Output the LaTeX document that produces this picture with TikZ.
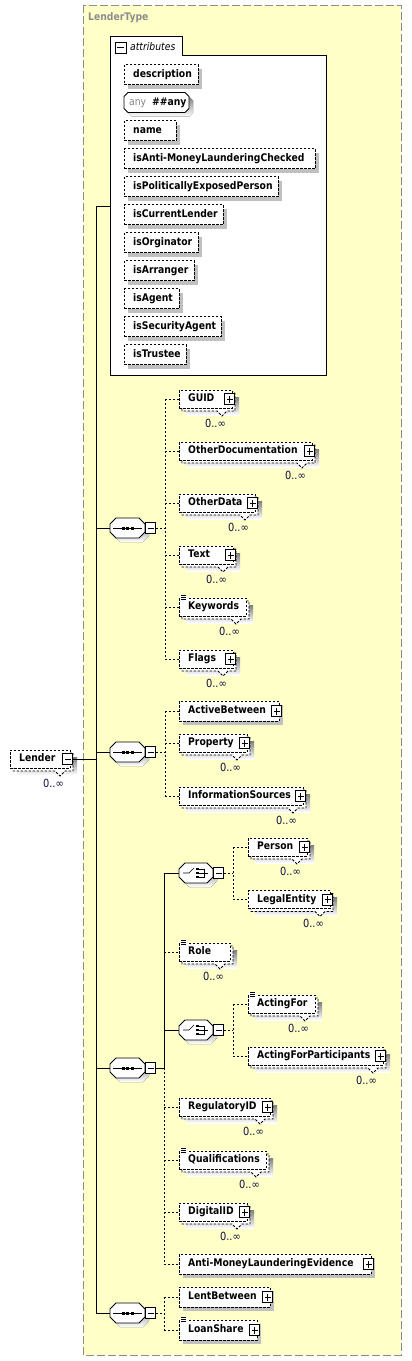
\documentclass[tikz,border=0pt]{standalone}
\usepackage{fontspec}
\setmainfont{DejaVu Sans}[FakeStretch=0.88]
\usetikzlibrary{shadows}
\definecolor{bgyellow}{HTML}{FFFFC8}
\definecolor{shade}{HTML}{C0C0C0}
\definecolor{framegray}{HTML}{8C8C8C}
\definecolor{anygray}{HTML}{808080}
\definecolor{multc}{HTML}{101040}
\tikzset{
  lw/.style={line width=0.8pt},
  dsh/.style={dash pattern=on 2.5pt off 1.5pt},
  ebox/.style={draw=black, lw, dsh, fill=white, inner sep=0pt},
  shadowed/.style={drop shadow={shadow xshift=4pt,shadow yshift=-4pt,fill=shade,opacity=1}},
  lbl/.style={font=\fontsize{10.5}{12}\selectfont\bfseries, inner sep=0pt, anchor=west, text height=7.5pt, text depth=2pt},
  mult/.style={font=\fontsize{11.2}{12}\selectfont, text=multc, inner sep=0pt, anchor=east},
  pmbox/.style={draw=black, solid, lw, fill=white, minimum width=10pt, minimum height=11pt, inner sep=0pt},
  minusbox/.style={pmbox, path picture={\draw[lw,solid] ([xshift=2pt]path picture bounding box.west) -- ([xshift=-2pt]path picture bounding box.east);}},
  plusbox/.style={pmbox, path picture={\draw[lw,solid] ([xshift=2pt]path picture bounding box.west) -- ([xshift=-2pt]path picture bounding box.east); \draw[lw,solid] ([yshift=2pt]path picture bounding box.south) -- ([yshift=-2pt]path picture bounding box.north);}},
  conn/.style={lw, black},
  opt/.style={lw, black, dash pattern=on 2pt off 2pt},
}
% single element box
\newcommand\selem[5]{%
  \node[ebox, shadowed, minimum width=#4pt, minimum height=20pt, anchor=west] (#1) at (#2,#3) {};
  \node[lbl] (#1-t) at (#2+9,#3) {#5};
}
% stacked element box (maxOccurs > 1)
\newcommand\melem[5]{%
  \fill[shade] (#2+7,#3-2) rectangle (#2+#4+7,#3+16);
  \draw[ebox] (#2+3,#3-6) -- (#2+#4+3,#3-6) -- (#2+#4+3,#3+12) -- (#2+#4-5,#3+12) -- (#2+#4-10,#3+17) -- (#2+#4-15,#3+12) -- (#2+3,#3+12) -- cycle;
  \node[ebox, minimum width=#4pt, minimum height=18pt, anchor=west] (#1) at (#2,#3) {};
  \node[lbl] (#1-t) at (#2+9,#3) {#5};
  \node[mult] (#1-n) at (#2+#4-6,#3+24) {0..∞};
}
\newcommand\plusb[1]{\node[plusbox] (#1-p) at ([xshift=-3pt]#1.east) {};}
\newcommand\docb[1]{%
  \fill[white] ([xshift=1pt,yshift=3pt]#1.north west) rectangle ++(7,6.5);
  \draw[line width=0.6pt] ([xshift=2pt,yshift=2pt]#1.north west) -- ++(5,0)
    ([xshift=2pt]#1.north west) -- ++(5,0)
    ([xshift=2pt,yshift=-2pt]#1.north west) -- ++(5,0);}
% compositor
\newcommand\compo[5]{%
  \fill[shade] (#2+10,#3-6) -- (#2+#4-2,#3-6) -- (#2+#4+4,#3) -- (#2+#4+4,#3+8) -- (#2+#4-2,#3+14) -- (#2+10,#3+14) -- (#2+4,#3+8) -- (#2+4,#3) -- cycle;
  \draw[lw, fill=white] (#2+6,#3-10) -- (#2+#4-6,#3-10) -- (#2+#4,#3-4) -- (#2+#4,#3+4) -- (#2+#4-6,#3+10) -- (#2+6,#3+10) -- (#2,#3+4) -- (#2,#3-4) -- cycle;
  \node[inner sep=0pt, minimum width=#4pt, minimum height=20pt, anchor=west] (#1) at (#2,#3) {};
  \node[minusbox, anchor=west] (#1-m) at (#1.east) {};
  \ifx s#5
    \draw[line width=0.6pt] (#2+3,#3) -- (#2+#4-3,#3);
    \fill (#2+#4/2-6,#3-1.5) rectangle ++(3,3);
    \fill (#2+#4/2-1.5,#3-1.5) rectangle ++(3,3);
    \fill (#2+#4/2+3,#3-1.5) rectangle ++(3,3);
  \else
    \draw[line width=0.6pt] (#2+#4/2-13,#3) -- (#2+#4/2-7,#3) -- (#2+#4/2-2,#3-5);
    \fill (#2+#4/2,#3-5.25) rectangle ++(2.5,2.5);
    \fill (#2+#4/2,#3-1.25) rectangle ++(2.5,2.5);
    \fill (#2+#4/2,#3+2.75) rectangle ++(2.5,2.5);
    \draw[line width=0.6pt] (#2+#4/2+2.5,#3-4) -- (#2+#4/2+8,#3-4) -- (#2+#4/2+8,#3+4) -- (#2+#4/2+2.5,#3+4)
      (#2+#4/2+2.5,#3) -- (#2+#4/2+12,#3);
  \fi
}
\begin{document}
\begin{tikzpicture}[x=1pt,y=-1pt]
\useasboundingbox (0,0) rectangle (412,1361);
% complex type frame
\draw[framegray, lw, dash pattern=on 8pt off 3pt, fill=bgyellow] (83,5) rectangle (401,1355);
\node[lbl, text=framegray] (lt) at (88,18) {LenderType};
% attributes box
\draw[lw, fill=white] (110,36) -- (182,36) -- (182,55) -- (326,55) -- (326,375) -- (110,375) -- cycle;
\node[inner sep=0pt, minimum width=216pt, minimum height=339pt, anchor=north west] (attrs) at (110,36) {};
\node[minusbox, minimum height=11pt, minimum width=11pt] (attrs-m) at (120.5,47.5) {};
\node[font=\fontsize{10.5}{12}\selectfont\itshape, inner sep=0pt, anchor=west] (attrs-t) at (130,47) {attributes};
\selem{a1}{124}{74.5}{74}{description}
% any attribute
\fill[shade] (128+4,102.5-6) -- (128+65-4,102.5-6) -- (128+65,102.5-2) -- (128+65,102.5+10) -- (128+65-4,102.5+14) -- (128+4,102.5+14) -- (128,102.5+10) -- (128,102.5-2) -- cycle;
\draw[lw, fill=white] (124+4,102.5-10) -- (124+65-4,102.5-10) -- (124+65,102.5-6) -- (124+65,102.5+6) -- (124+65-4,102.5+10) -- (124+4,102.5+10) -- (124,102.5+6) -- (124,102.5-6) -- cycle;
\node[inner sep=0pt, minimum width=65pt, minimum height=20pt, anchor=west] (a2) at (124,102.5) {};
\node[lbl] (a2-t) at (129,102.5) {\textcolor{anygray}{\mdseries any}\hspace{6pt}\#\#any};
\selem{a3}{124}{130.5}{52}{name}
\selem{a4}{124}{158.5}{191}{isAnti-MoneyLaunderingChecked}
\selem{a5}{124}{186.5}{154}{isPoliticallyExposedPerson}
\selem{a6}{124}{214.5}{99}{isCurrentLender}
\selem{a7}{124}{242.5}{74}{isOrginator}
\selem{a8}{124}{270.5}{70}{isArranger}
\selem{a9}{124}{298.5}{55}{isAgent}
\selem{a10}{124}{326.5}{97}{isSecurityAgent}
\selem{a11}{124}{354.5}{62}{isTrustee}
% root element
\melem{Lender}{10}{759}{60}{Lender}
\node[minusbox] (Lender-m) at ([xshift=-3pt]Lender.east) {};
\coordinate (trunk) at (96,759);
\coordinate (atrunk) at (96,206);
% sequence 1
\compo{seq1}{110}{528}{35}{s}
\melem{GUID}{179}{399}{53}{GUID}\plusb{GUID}
\melem{OtherDocumentation}{179}{451}{133}{OtherDocumentation}\plusb{OtherDocumentation}
\melem{OtherData}{179}{503}{76}{OtherData}\plusb{OtherData}
\melem{Text}{179}{555}{54}{Text}\plusb{Text}
\melem{Keywords}{179}{607}{67}{Keywords}\docb{Keywords}
\melem{Flags}{179}{659}{54}{Flags}\plusb{Flags}
% sequence 2
\compo{seq2}{110}{752}{35}{s}
\selem{ActiveBetween}{179}{711}{100}{ActiveBetween}\plusb{ActiveBetween}
\melem{Property}{179}{743}{68}{Property}\plusb{Property}
\melem{InformationSources}{179}{796}{124}{InformationSources}\plusb{InformationSources}
% sequence 3
\compo{seq3}{110}{1068}{35}{s}
\compo{ch1}{179}{873}{34}{c}
\melem{Person}{248}{847}{59}{Person}\plusb{Person}
\melem{LegalEntity}{248}{899.5}{82}{LegalEntity}\plusb{LegalEntity}
\melem{Role}{179}{952}{51}{Role}\docb{Role}
\compo{ch2}{179}{1030}{34}{c}
\melem{ActingFor}{248}{1004}{67}{ActingFor}\docb{ActingFor}
\melem{ActingForParticipants}{248}{1056}{135}{ActingForParticipants}\plusb{ActingForParticipants}
\melem{RegulatoryID}{179}{1107}{91}{RegulatoryID}\plusb{RegulatoryID}
\melem{Qualifications}{179}{1160}{87}{Qualifications}\docb{Qualifications}
\melem{DigitalID}{179}{1212}{68}{DigitalID}\plusb{DigitalID}
\selem{AML}{179}{1264}{192}{Anti-MoneyLaunderingEvidence}\plusb{AML}
% sequence 4
\compo{seq4}{110}{1313}{35}{s}
\selem{LentBetween}{179}{1297}{91}{LentBetween}\plusb{LentBetween}
\selem{LoanShare}{179}{1330}{78}{LoanShare}\docb{LoanShare}\plusb{LoanShare}
% connectors: trunk
\draw[conn] (Lender-m.east) -- (trunk);
\draw[conn] (atrunk) -- (trunk |- seq4.west);
\draw[conn] (atrunk) -- (attrs.west |- atrunk);
\foreach \s in {seq1,seq2,seq3,seq4} \draw[conn] (trunk |- \s.west) -- (\s.west);
% sequence 1 children
\coordinate (b1) at (165,528);
\draw[opt] (seq1-m.east) -- (b1);
\draw[opt] (b1 |- GUID.west) -- (b1 |- Flags.west);
\foreach \c in {GUID,OtherDocumentation,OtherData,Text,Keywords,Flags} \draw[opt] (b1 |- \c.west) -- (\c.west);
% sequence 2 children
\coordinate (b2) at (165,752);
\draw[opt] (seq2-m.east) -- (b2);
\draw[opt] (b2 |- ActiveBetween.west) -- (b2 |- InformationSources.west);
\foreach \c in {ActiveBetween,Property,InformationSources} \draw[opt] (b2 |- \c.west) -- (\c.west);
% sequence 3 children
\coordinate (b3) at (164,1068);
\draw[conn] (seq3-m.east) -- (b3);
\draw[conn] (b3 |- ch1.west) -- (b3);
\draw[opt] (b3) -- (b3 |- AML.west);
\foreach \c in {ch1,ch2} \draw[conn] (b3 |- \c.west) -- (\c.west);
\foreach \c in {Role,RegulatoryID,Qualifications,DigitalID,AML} \draw[opt] (b3 |- \c.west) -- (\c.west);
% choice 1
\coordinate (bc1) at (233,873);
\draw[opt] (ch1-m.east) -- (bc1);
\draw[opt] (bc1 |- Person.west) -- (bc1 |- LegalEntity.west);
\foreach \c in {Person,LegalEntity} \draw[opt] (bc1 |- \c.west) -- (\c.west);
% choice 2
\coordinate (bc2) at (233,1030);
\draw[opt] (ch2-m.east) -- (bc2);
\draw[opt] (bc2 |- ActingFor.west) -- (bc2 |- ActingForParticipants.west);
\foreach \c in {ActingFor,ActingForParticipants} \draw[opt] (bc2 |- \c.west) -- (\c.west);
% sequence 4 children
\coordinate (b4) at (164,1313);
\draw[opt] (seq4-m.east) -- (b4);
\draw[opt] (b4 |- LentBetween.west) -- (b4 |- LoanShare.west);
\foreach \c in {LentBetween,LoanShare} \draw[opt] (b4 |- \c.west) -- (\c.west);
\end{tikzpicture}
\end{document}
